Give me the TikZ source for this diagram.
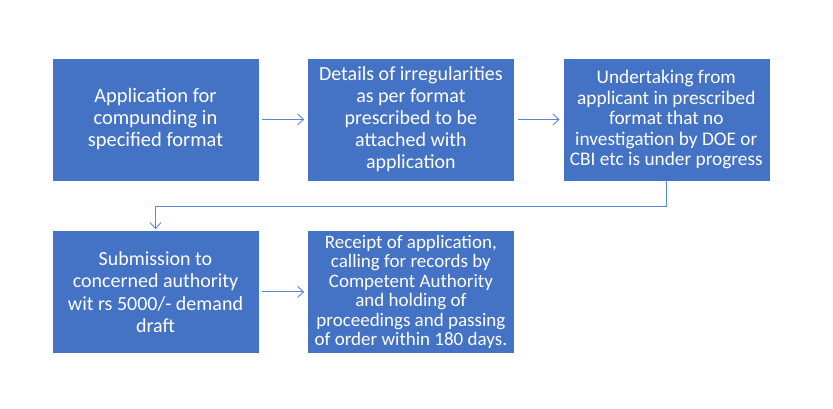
\documentclass[tikz,border=0pt]{standalone}
\usepackage{fontspec}
\setmainfont{Carlito}
\usetikzlibrary{arrows.meta,positioning}
\definecolor{boxblue}{HTML}{4472C4}
\definecolor{arrblue}{HTML}{5B87D2}

\begin{document}
\begin{tikzpicture}[x=1pt, y=1pt,
  stage/.style={draw=boxblue, fill=boxblue, minimum width=205pt, minimum height=121pt, inner sep=1pt, align=center, text=white, font=\fontsize{20}{22}\selectfont},
  arr/.style={-{Straight Barb[length=6pt, width=11pt]}, draw=arrblue, line width=0.9pt},
]
\useasboundingbox (0,0) rectangle (833,408);
\node[stage, font=\fontsize{20.5}{22}\selectfont] (apply) at (155.5,288.5) {Application for\\compunding in\\specified format};
\node[stage, right=50pt of apply] (details) {Details of irregularities\\as per format\\prescribed to be\\attached with\\application};
\node[stage, right=50pt of details, font=\fontsize{19.3}{20.5}\selectfont] (undertake) {Undertaking from\\applicant in prescribed\\format that no\\investigation by DOE or\\CBI etc is under progress};
\node[stage, below=51pt of apply, font=\fontsize{20}{22.5}\selectfont] (submit) {Submission to\\concerned authority\\wit rs 5000/- demand\\draft};
\node[stage, right=50pt of submit, font=\fontsize{19}{19.4}\selectfont] (receipt) {Receipt of application,\\calling for records by\\Competent Authority\\and holding of\\proceedings and passing\\of order within 180 days.};
\draw[arr, shorten <=4pt, shorten >=4pt] (apply) -- (details);
\draw[arr, shorten <=4pt, shorten >=4pt] (details) -- (undertake);
\draw[arr, shorten >=2pt] (undertake.south) -- ++(0,-26) -| (submit.north);
\draw[arr, shorten <=4pt, shorten >=4pt] (submit) -- (receipt);
\end{tikzpicture}
\end{document}
